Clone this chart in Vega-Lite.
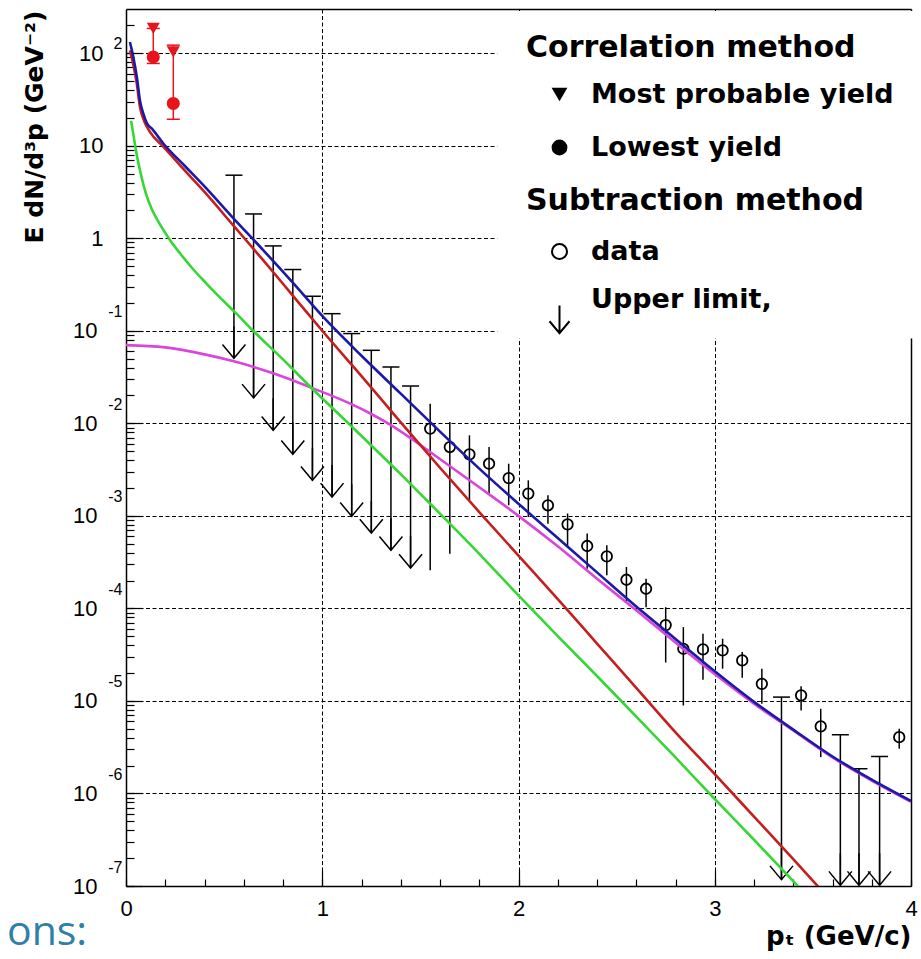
{
  "$schema": "https://vega.github.io/schema/vega-lite/v6.json",
  "width": 785,
  "height": 877,
  "autosize": "none",
  "padding": {"left": 126, "top": 9, "right": 10, "bottom": 73},
  "background": "white",
  "config": {"view": {"stroke": null}},
  "title": {"text": "ons:", "orient": "bottom", "anchor": "start", "frame": "group", "dx": -119, "offset": -4, "baseline": "alphabetic", "font": "Open Sans", "fontSize": 41, "fontWeight": "normal", "color": "#2f80a8"},
  "datasets": {
    "curves": [
      {"x": 0.0, "y": 0.07, "c": "comp1"},
      {"x": 0.2, "y": 0.0661, "c": "comp1"},
      {"x": 0.4, "y": 0.0556, "c": "comp1"},
      {"x": 0.55, "y": 0.0468, "c": "comp1"},
      {"x": 0.75, "y": 0.0347, "c": "comp1"},
      {"x": 0.95, "y": 0.024, "c": "comp1"},
      {"x": 1.143, "y": 0.0163, "c": "comp1"},
      {"x": 1.25, "y": 0.0126, "c": "comp1"},
      {"x": 1.35, "y": 0.00955, "c": "comp1"},
      {"x": 1.45, "y": 0.00692, "c": "comp1"},
      {"x": 1.55, "y": 0.0049, "c": "comp1"},
      {"x": 1.8, "y": 0.00204, "c": "comp1"},
      {"x": 2.0, "y": 0.001, "c": "comp1"},
      {"x": 2.2, "y": 0.000468, "c": "comp1"},
      {"x": 2.4, "y": 0.000209, "c": "comp1"},
      {"x": 2.6, "y": 0.0000955, "c": "comp1"},
      {"x": 2.8, "y": 0.0000427, "c": "comp1"},
      {"x": 3.0, "y": 0.0000195, "c": "comp1"},
      {"x": 3.2, "y": 0.00000933, "c": "comp1"},
      {"x": 3.4, "y": 0.00000479, "c": "comp1"},
      {"x": 3.6, "y": 0.00000245, "c": "comp1"},
      {"x": 3.8, "y": 0.00000138, "c": "comp1"},
      {"x": 4.0, "y": 8.13e-7, "c": "comp1"},

      {"x": 0.026, "y": 18.6, "c": "comp2"},
      {"x": 0.038, "y": 13.0, "c": "comp2"},
      {"x": 0.051, "y": 8.83, "c": "comp2"},
      {"x": 0.075, "y": 5.0, "c": "comp2"},
      {"x": 0.102, "y": 3.01, "c": "comp2"},
      {"x": 0.13, "y": 2.09, "c": "comp2"},
      {"x": 0.162, "y": 1.545, "c": "comp2"},
      {"x": 0.221, "y": 0.977, "c": "comp2"},
      {"x": 0.28, "y": 0.668, "c": "comp2"},
      {"x": 0.34, "y": 0.468, "c": "comp2"},
      {"x": 0.41, "y": 0.324, "c": "comp2"},
      {"x": 0.476, "y": 0.232, "c": "comp2"},
      {"x": 0.56, "y": 0.155, "c": "comp2"},
      {"x": 0.646, "y": 0.101, "c": "comp2"},
      {"x": 0.8, "y": 0.049, "c": "comp2"},
      {"x": 0.956, "y": 0.0229, "c": "comp2"},
      {"x": 1.143, "y": 0.00955, "c": "comp2"},
      {"x": 1.4, "y": 0.00282, "c": "comp2"},
      {"x": 1.55, "y": 0.00135, "c": "comp2"},
      {"x": 1.8, "y": 0.000389, "c": "comp2"},
      {"x": 2.0, "y": 0.000138, "c": "comp2"},
      {"x": 2.2, "y": 0.0000501, "c": "comp2"},
      {"x": 2.4, "y": 0.0000186, "c": "comp2"},
      {"x": 2.6, "y": 0.00000676, "c": "comp2"},
      {"x": 2.8, "y": 0.00000245, "c": "comp2"},
      {"x": 3.0, "y": 8.71e-7, "c": "comp2"},
      {"x": 3.2, "y": 3.16e-7, "c": "comp2"},
      {"x": 3.45, "y": 8.7e-8, "c": "comp2"},

      {"x": 0.02, "y": 107, "c": "comp3"},
      {"x": 0.037, "y": 75.9, "c": "comp3"},
      {"x": 0.055, "y": 46.8, "c": "comp3"},
      {"x": 0.071, "y": 26.3, "c": "comp3"},
      {"x": 0.09, "y": 19.05, "c": "comp3"},
      {"x": 0.122, "y": 14.1, "c": "comp3"},
      {"x": 0.19, "y": 9.77, "c": "comp3"},
      {"x": 0.3, "y": 5.37, "c": "comp3"},
      {"x": 0.4, "y": 3.16, "c": "comp3"},
      {"x": 0.55, "y": 1.35, "c": "comp3"},
      {"x": 0.7, "y": 0.575, "c": "comp3"},
      {"x": 0.85, "y": 0.24, "c": "comp3"},
      {"x": 1.0, "y": 0.1, "c": "comp3"},
      {"x": 1.2, "y": 0.0324, "c": "comp3"},
      {"x": 1.4, "y": 0.01023, "c": "comp3"},
      {"x": 1.6, "y": 0.00331, "c": "comp3"},
      {"x": 1.8, "y": 0.0011, "c": "comp3"},
      {"x": 2.0, "y": 0.000372, "c": "comp3"},
      {"x": 2.2, "y": 0.000126, "c": "comp3"},
      {"x": 2.4, "y": 0.0000417, "c": "comp3"},
      {"x": 2.6, "y": 0.0000138, "c": "comp3"},
      {"x": 2.8, "y": 0.00000457, "c": "comp3"},
      {"x": 3.0, "y": 0.00000162, "c": "comp3"},
      {"x": 3.2, "y": 5.62e-7, "c": "comp3"},
      {"x": 3.4, "y": 1.95e-7, "c": "comp3"},
      {"x": 3.55, "y": 8.7e-8, "c": "comp3"},

      {"x": 0.02, "y": 131.8, "c": "total"},
      {"x": 0.037, "y": 91.2, "c": "total"},
      {"x": 0.055, "y": 55.5, "c": "total"},
      {"x": 0.071, "y": 30.9, "c": "total"},
      {"x": 0.088, "y": 22.3, "c": "total"},
      {"x": 0.107, "y": 17.4, "c": "total"},
      {"x": 0.131, "y": 15.35, "c": "total"},
      {"x": 0.19, "y": 10.57, "c": "total"},
      {"x": 0.3, "y": 6.03, "c": "total"},
      {"x": 0.4, "y": 3.63, "c": "total"},
      {"x": 0.55, "y": 1.62, "c": "total"},
      {"x": 0.7, "y": 0.741, "c": "total"},
      {"x": 0.85, "y": 0.331, "c": "total"},
      {"x": 1.0, "y": 0.1445, "c": "total"},
      {"x": 1.2, "y": 0.0537, "c": "total"},
      {"x": 1.4, "y": 0.0209, "c": "total"},
      {"x": 1.6, "y": 0.00813, "c": "total"},
      {"x": 1.8, "y": 0.00324, "c": "total"},
      {"x": 2.0, "y": 0.00135, "c": "total"},
      {"x": 2.2, "y": 0.000575, "c": "total"},
      {"x": 2.4, "y": 0.000245, "c": "total"},
      {"x": 2.6, "y": 0.0001047, "c": "total"},
      {"x": 2.8, "y": 0.0000468, "c": "total"},
      {"x": 3.0, "y": 0.0000209, "c": "total"},
      {"x": 3.2, "y": 0.00000977, "c": "total"},
      {"x": 3.4, "y": 0.0000049, "c": "total"},
      {"x": 3.6, "y": 0.00000251, "c": "total"},
      {"x": 3.8, "y": 0.00000141, "c": "total"},
      {"x": 4.0, "y": 8.3e-7, "c": "total"}
    ],
    "sub": [
      {"x": 1.55, "y": 0.00877, "lo": 0.000258, "hi": 0.0163, "kind": "data"},
      {"x": 1.65, "y": 0.00554, "lo": 0.00039, "hi": 0.0103, "kind": "data"},
      {"x": 1.75, "y": 0.00462, "lo": 0.00147, "hi": 0.00741, "kind": "data"},
      {"x": 1.85, "y": 0.00366, "lo": 0.00174, "hi": 0.00554, "kind": "data"},
      {"x": 1.95, "y": 0.00256, "lo": 0.0013, "hi": 0.00366, "kind": "data"},
      {"x": 2.05, "y": 0.00174, "lo": 0.00097, "hi": 0.00242, "kind": "data"},
      {"x": 2.15, "y": 0.0013, "lo": 0.000824, "hi": 0.00167, "kind": "data"},
      {"x": 2.25, "y": 0.000809, "lo": 0.00046, "hi": 0.00106, "kind": "data"},
      {"x": 2.35, "y": 0.000472, "lo": 0.000268, "hi": 0.000643, "kind": "data"},
      {"x": 2.45, "y": 0.000365, "lo": 0.000228, "hi": 0.00048, "kind": "data"},
      {"x": 2.55, "y": 0.000204, "lo": 0.000117, "hi": 0.00028, "kind": "data"},
      {"x": 2.65, "y": 0.000163, "lo": 0.000103, "hi": 0.000209, "kind": "data"},
      {"x": 2.75, "y": 0.000066, "lo": 0.000026, "hi": 0.000103, "kind": "data"},
      {"x": 2.84, "y": 0.0000366, "lo": 0.00000893, "hi": 0.0000628, "kind": "data"},
      {"x": 2.94, "y": 0.000036, "lo": 0.0000169, "hi": 0.0000532, "kind": "data"},
      {"x": 3.04, "y": 0.0000352, "lo": 0.0000223, "hi": 0.000047, "kind": "data"},
      {"x": 3.14, "y": 0.0000274, "lo": 0.0000178, "hi": 0.0000337, "kind": "data"},
      {"x": 3.24, "y": 0.0000153, "lo": 0.00000933, "hi": 0.0000223, "kind": "data"},
      {"x": 3.44, "y": 0.0000115, "lo": 0.00000789, "hi": 0.0000144, "kind": "data"},
      {"x": 3.54, "y": 0.0000053, "lo": 0.00000247, "hi": 0.00000822, "kind": "data"},
      {"x": 3.94, "y": 0.00000406, "lo": 0.00000304, "hi": 0.000005, "kind": "data"}
    ],
    "ul": [
      {"x": 0.55, "y": 0.0505, "hi": 4.8, "kind": "Upper limit,"},
      {"x": 0.65, "y": 0.0188, "hi": 1.83, "kind": "Upper limit,"},
      {"x": 0.75, "y": 0.0084, "hi": 0.826, "kind": "Upper limit,"},
      {"x": 0.85, "y": 0.00462, "hi": 0.459, "kind": "Upper limit,"},
      {"x": 0.95, "y": 0.00242, "hi": 0.236, "kind": "Upper limit,"},
      {"x": 1.05, "y": 0.0016, "hi": 0.153, "kind": "Upper limit,"},
      {"x": 1.15, "y": 0.000989, "hi": 0.0933, "kind": "Upper limit,"},
      {"x": 1.25, "y": 0.000652, "hi": 0.0615, "kind": "Upper limit,"},
      {"x": 1.35, "y": 0.000424, "hi": 0.0406, "kind": "Upper limit,"},
      {"x": 1.45, "y": 0.000273, "hi": 0.0253, "kind": "Upper limit,"},
      {"x": 3.34, "y": 1.17e-7, "hi": 0.000011, "kind": "Upper limit,"},
      {"x": 3.64, "y": 1.02e-7, "hi": 0.00000431, "kind": "Upper limit,"},
      {"x": 3.735, "y": 1.02e-7, "hi": 0.00000185, "kind": "Upper limit,"},
      {"x": 3.84, "y": 1.02e-7, "hi": 0.00000251, "kind": "Upper limit,"}
    ],
    "corr": [
      {"x": 0.139, "y": 185, "kind": "Most probable yield"},
      {"x": 0.139, "y": 91, "kind": "Lowest yield"},
      {"x": 0.241, "y": 103, "kind": "Most probable yield"},
      {"x": 0.241, "y": 28.6, "kind": "Lowest yield"}
    ],
    "correrr": [
      {"x": 0.139, "lo": 77.4, "hi": 185},
      {"x": 0.241, "lo": 19.3, "hi": 122}
    ]
  },
  "encoding": {
    "x": {"field": "x", "type": "quantitative", "scale": {"domain": [0, 4], "nice": false, "zero": false}, "axis": null}
  },
  "layer": [
    {
      "data": {"name": "correrr"},
      "mark": {"type": "rect", "fill": "white", "stroke": null, "opacity": 1},
      "encoding": {
        "x": {"datum": 1.893, "type": "quantitative", "axis": null},
        "x2": {"datum": 4.03},
        "y": {"datum": 0.083, "type": "quantitative", "scale": {"type": "log", "domain": [1e-7, 300], "nice": false}, "axis": null},
        "y2": {"datum": 285}
      }
    },
    {
      "layer": [
        {
          "data": {"name": "sub"},
          "mark": {"type": "rule", "color": "black", "strokeWidth": 1.5},
          "encoding": {
            "x": {
              "field": "x", "type": "quantitative", "scale": {"domain": [0, 4], "nice": false, "zero": false},
              "axis": {
                "orient": "bottom", "values": [1, 2, 3], "labels": false, "domain": false, "grid": false,
                "ticks": true, "tickSize": -16, "tickColor": "black", "tickWidth": 1.2, "title": null
              }
            },
            "y": {
              "field": "lo",
              "type": "quantitative",
              "scale": {"type": "log", "domain": [1e-7, 300], "nice": false},
              "axis": {
                "orient": "left",
                "values": [1e-7, 1e-6, 1e-5, 1e-4, 1e-3, 1e-2, 1e-1],
                "labelExpr": "'' + round(log(datum.value)/LN10)",
                "ticks": false,
                "domain": false,
                "grid": false,
                "labelFont": "Liberation Sans",
                "labelFontSize": 16,
                "labelColor": "black",
                "labelPadding": 4,
                "labelOffset": -19,
                "labelOverlap": false,
                "labelFlush": false,
                "labelBound": false,
                "title": null
              }
            },
            "y2": {"field": "hi"}
          }
        },
        {
          "data": {"name": "ul"},
          "mark": {"type": "rule", "color": "black", "strokeWidth": 1.5},
          "encoding": {
            "y": {
              "field": "y", "type": "quantitative", "scale": {"type": "log", "domain": [1e-7, 300], "nice": false},
              "axis": {
                "orient": "left",
                "values": [1e-7, 1e-6, 1e-5, 1e-4, 1e-3, 1e-2, 1e-1, 1, 10, 100],
                "labelExpr": "datum.value > 0.5 && datum.value < 1.5 ? '1' : (datum.value > 5 ? '10' : '')",
                "ticks": true, "tickSize": -16, "tickColor": "black", "tickWidth": 1.2,
                "domain": false, "grid": false,
                "labelFont": "Liberation Sans", "labelFontSize": 22, "labelColor": "black",
                "labelPadding": 39,
                "labelOverlap": false, "labelFlush": false, "labelBound": false,
                "title": null
              }
            },
            "y2": {"field": "hi"}
          }
        },
        {
          "data": {"name": "ul"},
          "mark": {"type": "point", "shape": "stroke", "size": 289, "filled": false, "stroke": "black", "strokeWidth": 1.5, "opacity": 1},
          "encoding": {
            "y": {
              "field": "hi", "type": "quantitative", "scale": {"type": "log", "domain": [1e-7, 300], "nice": false},
              "axis": {"orient": "right", "labels": false, "ticks": false, "grid": false, "domain": true, "domainColor": "black", "domainWidth": 1.5, "title": null}
            }
          }
        },
        {
          "data": {"name": "sub"},
          "mark": {"type": "point", "filled": false, "stroke": "black", "color": "black", "strokeWidth": 1.8, "size": 110, "opacity": 1},
          "encoding": {
            "y": {
              "field": "y", "type": "quantitative", "scale": {"type": "log", "domain": [1e-7, 300], "nice": false},
              "axis": {
                "orient": "left", "values": [100], "labelExpr": "'2'",
                "ticks": false, "domain": false, "grid": false,
                "labelFont": "Liberation Sans", "labelFontSize": 16, "labelColor": "black",
                "labelPadding": 4, "labelOffset": -10,
                "labelOverlap": false, "labelFlush": false, "labelBound": false,
                "title": null
              }
            },
            "shape": {
              "field": "kind",
              "type": "nominal",
              "scale": {"domain": ["data", "Upper limit,"], "range": ["circle", "M 0 0.8 L 0 4.5 M -1.33 2.9 L 0 4.5 L 1.33 2.9"]},
              "legend": {
                "title": "Subtraction method",
                "orient": "none",
                "legendX": 400,
                "legendY": 177,
                "padding": 0,
                "titlePadding": 22,
                "rowPadding": 20,
                "symbolOffset": 20,
                "labelOffset": 18,
                "symbolSize": 225,
                "symbolStrokeWidth": 2,
                "symbolStrokeColor": "black",
                "symbolFillColor": "transparent",
                "titleFont": "DejaVu Sans",
                "titleFontSize": 30,
                "titleFontWeight": "bold",
                "titleColor": "black",
                "titleLimit": 800,
                "labelFont": "DejaVu Sans",
                "labelFontSize": 27,
                "labelFontWeight": "bold",
                "labelColor": "black",
                "labelLimit": 800
              }
            }
          }
        },
        {
          "data": {"name": "ul"},
          "mark": {"type": "point", "filled": false, "stroke": "black", "color": "black", "strokeWidth": 1.5, "size": 299, "opacity": 1, "yOffset": -38.9},
          "encoding": {
            "x": {
              "field": "x", "type": "quantitative", "scale": {"domain": [0, 4], "nice": false, "zero": false},
              "axis": {"orient": "top", "labels": false, "ticks": false, "grid": false, "domain": true, "domainColor": "black", "domainWidth": 1.5, "title": null}
            },
            "y": {"field": "y", "type": "quantitative", "scale": {"type": "log", "domain": [1e-7, 300], "nice": false}, "axis": null},
            "shape": {"field": "kind", "type": "nominal", "legend": null}
          }
        }
      ],
      "resolve": {"axis": {"x": "independent", "y": "independent"}}
    },
    {
      "data": {"name": "curves"},
      "mark": {"type": "line", "strokeWidth": 2.6, "clip": true, "interpolate": "monotone"},
      "encoding": {
        "x": {
          "field": "x", "type": "quantitative", "scale": {"domain": [0, 4], "nice": false, "zero": false},
          "axis": {
            "orient": "bottom",
            "values": [0, 0.2, 0.4, 0.6, 0.8, 1, 1.2, 1.4, 1.6, 1.8, 2, 2.2, 2.4, 2.6, 2.8, 3, 3.2, 3.4, 3.6, 3.8, 4],
            "labelExpr": "abs(datum.value - round(datum.value)) < 0.001 ? '' + round(datum.value) : ''",
            "grid": true,
            "gridColor": "black",
            "gridDash": [4, 2.5],
            "gridWidth": 1,
            "gridOpacity": {"condition": {"test": "datum.value > 0.5 && datum.value < 3.5 && abs(datum.value - round(datum.value)) < 0.001", "value": 1}, "value": 0},
            "tickColor": "black",
            "tickWidth": 1.2,
            "tickSize": -7,
            "domainColor": "black",
            "domainWidth": 1.5,
            "labelFont": "Liberation Sans",
            "labelFontSize": 22,
            "labelColor": "black",
            "labelPadding": 19,
            "labelOverlap": false,
            "labelFlush": false,
            "labelBound": false,
            "title": "pₜ  (GeV/c)",
            "titleFont": "DejaVu Sans",
            "titleFontSize": 26,
            "titleFontWeight": "bold",
            "titleColor": "black",
            "titleAnchor": "end",
            "titleAlign": "right",
            "titleBaseline": "alphabetic",
            "titleX": 785,
            "titleY": 58
          }
        },
        "y": {
          "field": "y",
          "type": "quantitative",
          "scale": {"type": "log", "domain": [1e-7, 300], "nice": false},
          "axis": {
            "orient": "left",
            "values": [1e-7, 2e-7, 3e-7, 4e-7, 5e-7, 6e-7, 7e-7, 8e-7, 9e-7, 1e-6, 2e-6, 3e-6, 4e-6, 5e-6, 6e-6, 7e-6, 8e-6, 9e-6, 1e-5, 2e-5, 3e-5, 4e-5, 5e-5, 6e-5, 7e-5, 8e-5, 9e-5, 1e-4, 2e-4, 3e-4, 4e-4, 5e-4, 6e-4, 7e-4, 8e-4, 9e-4, 1e-3, 2e-3, 3e-3, 4e-3, 5e-3, 6e-3, 7e-3, 8e-3, 9e-3, 1e-2, 2e-2, 3e-2, 4e-2, 5e-2, 6e-2, 7e-2, 8e-2, 9e-2, 0.1, 0.2, 0.3, 0.4, 0.5, 0.6, 0.7, 0.8, 0.9, 1, 2, 3, 4, 5, 6, 7, 8, 9, 10, 20, 30, 40, 50, 60, 70, 80, 90, 100, 200],
            "labelExpr": "abs(log(datum.value)/LN10 - round(log(datum.value)/LN10)) < 0.001 && datum.value < 0.5 ? '10' : ''",
            "grid": true,
            "gridColor": "black",
            "gridDash": [4, 2.5],
            "gridWidth": 1,
            "gridOpacity": {"condition": {"test": "abs(log(datum.value)/LN10 - round(log(datum.value)/LN10)) < 0.001", "value": 1}, "value": 0},
            "tickColor": "black",
            "tickWidth": 1.2,
            "tickSize": -8,
            "domainColor": "black",
            "domainWidth": 1.5,
            "labelFont": "Liberation Sans",
            "labelFontSize": 22,
            "labelColor": "black",
            "labelPadding": 37,
            "labelOverlap": false,
            "labelFlush": false,
            "labelBound": false,
            "title": "E dN/d³p (GeV⁻²)",
            "titleFont": "DejaVu Sans",
            "titleFontSize": 25,
            "titleFontWeight": "bold",
            "titleColor": "black",
            "titleAnchor": "end",
            "titleAngle": -90,
            "titleAlign": "right",
            "titleBaseline": "alphabetic",
            "titleX": -84,
            "titleY": 1
          }
        },
        "color": {
          "field": "c",
          "type": "nominal",
          "scale": {"domain": ["comp1", "comp2", "comp3", "total"], "range": ["#d946d9", "#36d636", "#c41e1e", "#1a1aa8"]},
          "legend": null
        }
      }
    },
    {
      "layer": [
        {
          "data": {"name": "correrr"},
          "mark": {"type": "rule", "color": "#e8141b", "strokeWidth": 1.5},
          "encoding": {
            "y": {"field": "lo", "type": "quantitative", "scale": {"type": "log", "domain": [1e-7, 300], "nice": false}, "axis": null},
            "y2": {"field": "hi"}
          }
        },
        {
          "data": {"name": "correrr"},
          "mark": {"type": "point", "shape": "stroke", "size": 169, "filled": false, "stroke": "#e8141b", "strokeWidth": 1.5, "opacity": 1},
          "encoding": {
            "y": {"field": "lo", "type": "quantitative", "scale": {"type": "log", "domain": [1e-7, 300], "nice": false}, "axis": null}
          }
        },
        {
          "data": {"name": "correrr"},
          "mark": {"type": "point", "shape": "stroke", "size": 169, "filled": false, "stroke": "#e8141b", "strokeWidth": 1.5, "opacity": 1},
          "encoding": {
            "y": {"field": "hi", "type": "quantitative", "scale": {"type": "log", "domain": [1e-7, 300], "nice": false}, "axis": null}
          }
        },
        {
          "data": {"name": "corr"},
          "mark": {"type": "point", "filled": true, "color": "black", "size": 170, "opacity": 0},
          "encoding": {
            "y": {"field": "y", "type": "quantitative", "scale": {"type": "log", "domain": [1e-7, 300], "nice": false}, "axis": null},
            "shape": {
              "field": "kind",
              "type": "nominal",
              "scale": {"domain": ["Most probable yield", "Lowest yield"], "range": ["triangle-down", "circle"]},
              "legend": {
                "title": "Correlation method",
                "orient": "none",
                "legendX": 400,
                "legendY": 24,
                "padding": 0,
                "titlePadding": 18,
                "rowPadding": 25,
                "symbolOffset": 20,
                "labelOffset": 18,
                "symbolSize": 250,
                "symbolOpacity": 1,
                "titleFont": "DejaVu Sans",
                "titleFontSize": 30,
                "titleFontWeight": "bold",
                "titleColor": "black",
                "titleLimit": 800,
                "labelFont": "DejaVu Sans",
                "labelFontSize": 27,
                "labelFontWeight": "bold",
                "labelColor": "black",
                "labelLimit": 800
              }
            }
          }
        },
        {
          "data": {"name": "corr"},
          "mark": {"type": "point", "filled": true, "color": "#e8141b", "size": 170, "opacity": 1},
          "encoding": {
            "y": {"field": "y", "type": "quantitative", "scale": {"type": "log", "domain": [1e-7, 300], "nice": false}, "axis": null},
            "shape": {"field": "kind", "type": "nominal", "legend": null}
          }
        }
      ]
    }
  ],
  "resolve": {"axis": {"x": "independent", "y": "independent"}, "scale": {"shape": "independent"}}
}
